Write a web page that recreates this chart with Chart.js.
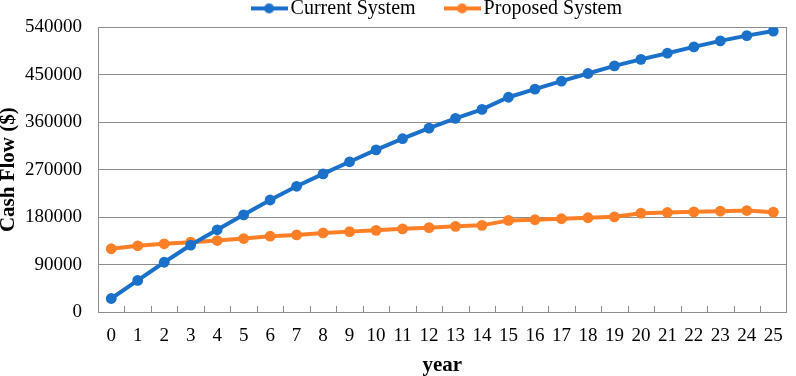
<!DOCTYPE html>
<html><head><meta charset="utf-8">
<script src="https://cdn.jsdelivr.net/npm/chart.js@4.4.0/dist/chart.umd.min.js"></script>
<style>html,body{margin:0;padding:0;background:#fff}#wrap{width:796px;height:376px;position:relative}</style>
</head><body><div id="wrap"><canvas id="c"></canvas></div>
<script>
const years = ['0','1','2','3','4','5','6','7','8','9','10','11','12','13','14','15','16','17','18','19','20','21','22','23','24','25'];
const seriesNames = ['Current System', 'Proposed System'];
const currentSystem = [25600, 60000, 94400, 127000, 156000, 184400, 212500, 238500, 262000, 285000, 307500, 328800, 348800, 367500, 384400, 407500, 423000, 438000, 452500, 467000, 479400, 491000, 503000, 514400, 524400, 533000];
const proposedSystem = [120000, 125600, 129400, 132500, 135600, 139400, 143800, 146300, 150000, 152500, 155000, 157800, 160000, 162500, 164400, 173800, 175000, 176900, 178800, 180600, 187500, 188800, 190000, 191300, 192500, 189400];
const yTickValues = [0, 90000, 180000, 270000, 360000, 450000, 540000];
const xTitle = 'year';
const yTitle = 'Cash Flow ($)';

const colors = ['#1B70C9', '#FF7F27'];
const GRID = '#8c8c8c';
const FONT = '"Liberation Serif", "Times New Roman", serif';

function legendSymbol(color) {
  const c = document.createElement('canvas');
  c.width = 37; c.height = 12;
  const g = c.getContext('2d');
  g.strokeStyle = color; g.lineWidth = 4;
  g.beginPath(); g.moveTo(0, 6); g.lineTo(37, 6); g.stroke();
  g.fillStyle = color;
  g.beginPath(); g.arc(18.5, 6, 5, 0, Math.PI * 2); g.fill();
  return c;
}
const legendPad = ['       ', ' '];

const legendFitPlugin = {
  id: 'legendFit',
  beforeLayout(chart) {
    const lg = chart.legend;
    if (lg && !lg._wrappedFit) {
      const orig = lg.fit;
      lg.fit = function () { orig.call(this); this.height -= 1; };
      lg._wrappedFit = true;
    }
  }
};

const innerTicksPlugin = {
  id: 'innerTicks',
  afterDraw(chart) {
    const xs = chart.scales.x;
    const area = chart.chartArea;
    const ctx = chart.ctx;
    ctx.save();
    ctx.strokeStyle = GRID;
    ctx.lineWidth = 1;
    ctx.beginPath();
    for (let i = 1; i < years.length; i++) {
      const x = Math.round((xs.getPixelForValue(i - 1) + xs.getPixelForValue(i)) / 2) + 0.5;
      ctx.moveTo(x, area.bottom - 6);
      ctx.lineTo(x, area.bottom);
    }
    ctx.stroke();
    ctx.restore();
  }
};

new Chart(document.getElementById('c'), {
  type: 'line',
  data: {
    labels: years,
    datasets: [
      { label: seriesNames[0], data: currentSystem, borderColor: colors[0], backgroundColor: colors[0],
        borderWidth: 4, pointRadius: 5.4, pointBorderWidth: 0, pointBackgroundColor: colors[0], tension: 0 },
      { label: seriesNames[1], data: proposedSystem, borderColor: colors[1], backgroundColor: colors[1],
        borderWidth: 4, pointRadius: 5.4, pointBorderWidth: 0, pointBackgroundColor: colors[1], tension: 0 }
    ]
  },
  options: {
    responsive: true,
    maintainAspectRatio: false,
    animation: false,
    devicePixelRatio: 1,
    layout: { padding: { top: -5, right: 1, bottom: 0, left: 0 } },
    plugins: {
      tooltip: { enabled: false },
      legend: {
        position: 'top',
        fullSize: false,
        labels: {
          usePointStyle: true,
          pointStyleWidth: 23,
          padding: 0,
          color: '#000',
          font: { family: FONT, size: 20 },
          generateLabels(chart) {
            return chart.data.datasets.map((ds, i) => ({
              text: ds.label + legendPad[i],
              pointStyle: legendSymbol(colors[i]),
              fillStyle: colors[i],
              strokeStyle: colors[i],
              lineWidth: 0,
              hidden: false,
              datasetIndex: i,
              fontColor: '#000'
            }));
          }
        }
      }
    },
    scales: {
      x: {
        type: 'category',
        offset: true,
        grid: { display: false, drawTicks: false, color: 'rgba(0,0,0,0)', tickColor: 'rgba(0,0,0,0)' },
        border: { display: true, color: GRID, width: 1 },
        ticks: { autoSkip: false, maxRotation: 0, minRotation: 0, padding: 13, color: '#000',
                 font: { family: FONT, size: 19 } },
        title: { display: true, text: xTitle, color: '#000', padding: 0,
                 font: { family: FONT, size: 21, weight: 'bold', lineHeight: 1.0 } },
        afterFit(s) { s.height = 64; }
      },
      y: {
        type: 'linear',
        min: 0,
        max: 540000,
        afterBuildTicks(s) { s.ticks = yTickValues.map(v => ({ value: v })); },
        ticks: { padding: 16, color: '#000', font: { family: FONT, size: 19 },
                 callback: v => String(v) },
        grid: { color: GRID, lineWidth: 1, drawTicks: false },
        border: { display: true, color: GRID, width: 1 },
        title: { display: true, text: yTitle, color: '#000', padding: 0,
                 font: { family: FONT, size: 21, weight: 'bold', lineHeight: 0.85 } },
        afterFit(s) { s.width = 98; }
      },
      y2: {
        type: 'linear',
        position: 'right',
        display: true,
        grid: { drawOnChartArea: false, drawTicks: false, color: 'rgba(0,0,0,0)' },
        ticks: { display: false },
        border: { display: true, color: GRID, width: 1 },
        afterFit(s) { s.width = 0; }
      }
    }
  },
  plugins: [legendFitPlugin, innerTicksPlugin]
});
</script>
</body></html>
